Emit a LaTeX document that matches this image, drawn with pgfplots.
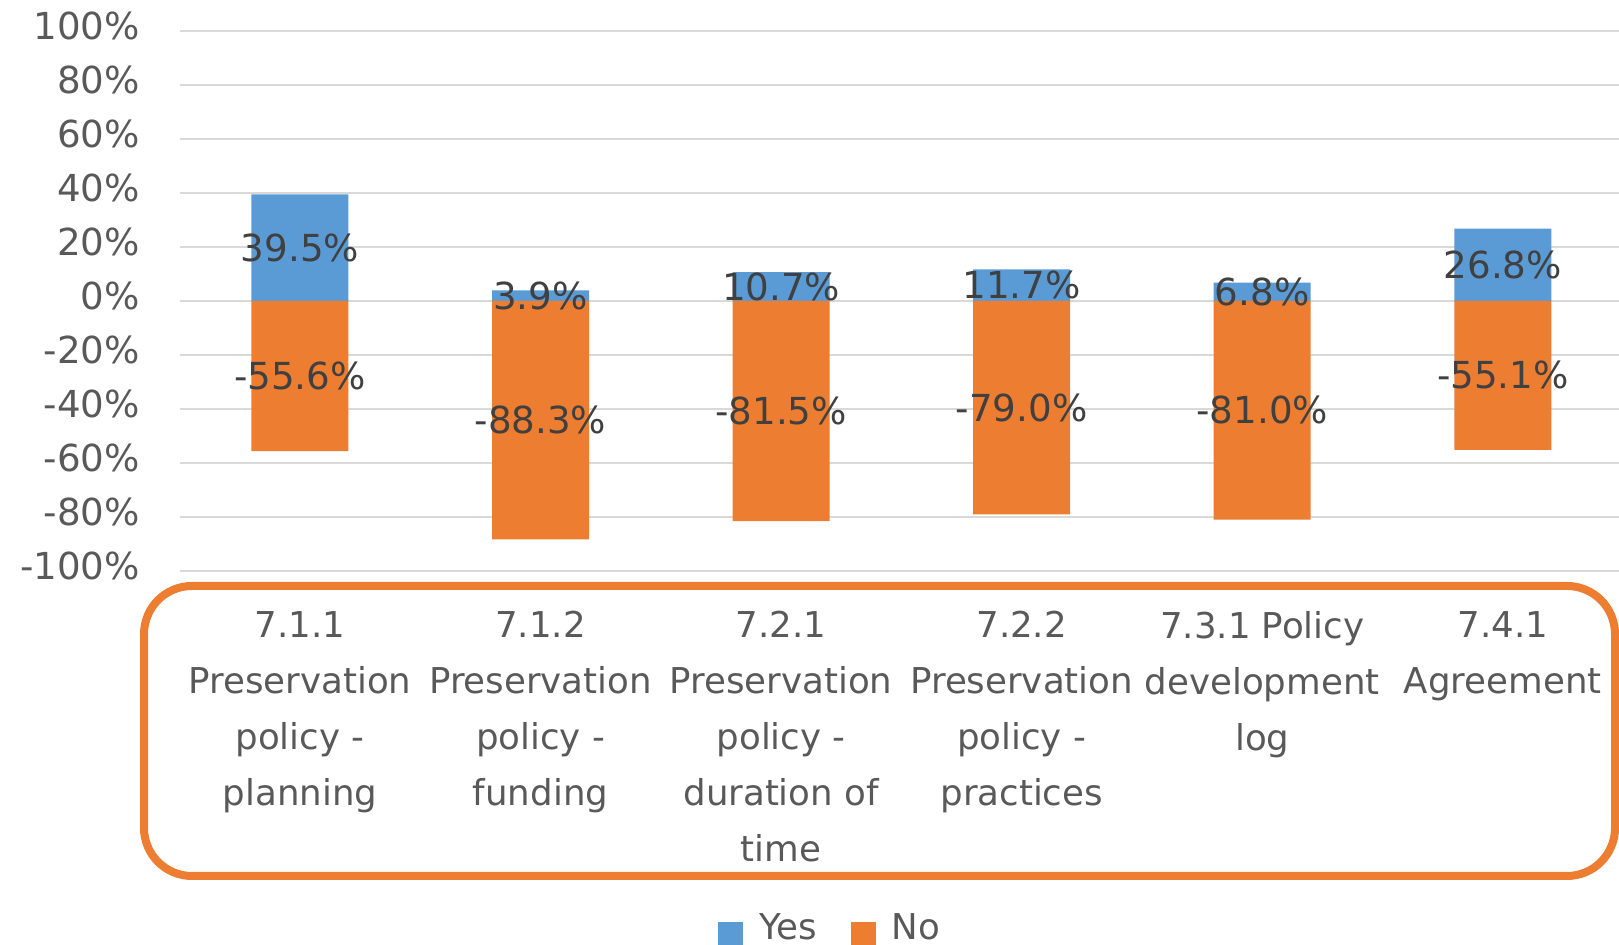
\documentclass[border=0pt]{standalone}
\usepackage{pgfplots}
\pgfplotsset{compat=1.18}
\usepackage{fontspec}
\setmainfont{DejaVu Sans}
\definecolor{yesblue}{HTML}{5B9BD5}
\definecolor{noorange}{HTML}{ED7D31}
\definecolor{gridgray}{HTML}{D9D9D9}
\definecolor{ticktext}{HTML}{595959}
\definecolor{labeltext}{HTML}{404040}
\newcommand\chartfont{\fontsize{17.8pt}{28pt}\selectfont}
\newcommand\numfont{\fontsize{18.6pt}{28pt}\selectfont}

\begin{document}
\begin{tikzpicture}
\begin{axis}[
  at={(89.85pt,187pt)}, anchor=south west,
  scale only axis, width=721.7pt, height=270pt,
  xmin=-0.5, xmax=5.5, ymin=-100, ymax=100,
  axis line style={draw=none},
  tick style={draw=none},
  ytick={-100,-80,...,100},
  ymajorgrids, grid style={gridgray, line width=1pt},
  /pgf/number format/assume math mode=true,
  yticklabel={\pgfmathprintnumber{\tick}\%},
  yticklabel style={anchor=east, xshift=-16.4pt, yshift=2.75pt, font=\numfont, text=ticktext},
  xtick={0,...,5},
  xticklabels={
    {7.1.1\\Preservation\\policy -\\planning},
    {7.1.2\\Preservation\\policy -\\funding},
    {7.2.1\\Preservation\\policy -\\duration of\\time},
    {7.2.2\\Preservation\\policy -\\practices},
    {7.3.1 Policy\\development\\log},
    {7.4.1\\Agreement}},
  xticklabel style={anchor=north, align=center, yshift=-16.5pt, font=\chartfont, text=ticktext},
  legend style={at={(0.4513,-0.6614)}, anchor=center, draw=none, fill=none,
    legend columns=-1, font=\chartfont, text=ticktext,
    /tikz/every odd column/.append style={column sep=6pt},
    /tikz/every even column/.append style={column sep=15pt}},
  legend image code/.code={\fill[#1,draw=none] (0pt,-9.25pt) rectangle (12.5pt,3.25pt);},
  visualization depends on={rawy \as \yv},
  nodes near coords={\pgfmathprintnumber[fixed,fixed zerofill,precision=1]{\pgfplotspointmeta}\%},
  point meta=rawy,
  nodes near coords style={font=\numfont, text=labeltext, anchor=center,
    shift={(axis direction cs:0,-\yv/2)}},
]
\addplot[ybar, bar shift=0pt, bar width=48.5pt, fill=yesblue, draw=none]
  coordinates {(0,39.5) (1,3.9) (2,10.7) (3,11.7) (4,6.8) (5,26.8)};
\addlegendentry{Yes}
\addplot[ybar, bar shift=0pt, bar width=48.5pt, fill=noorange, draw=none]
  coordinates {(0,-55.6) (1,-88.3) (2,-81.5) (3,-79.0) (4,-81.0) (5,-55.1)};
\addlegendentry{No}
\end{axis}
\draw[noorange, line width=4pt, rounded corners=24pt] (72pt,34.5pt) rectangle (807.5pt,179.5pt);
\pgfresetboundingbox
\useasboundingbox (0,0) rectangle (809.5pt,472.5pt);
\end{tikzpicture}
\end{document}
